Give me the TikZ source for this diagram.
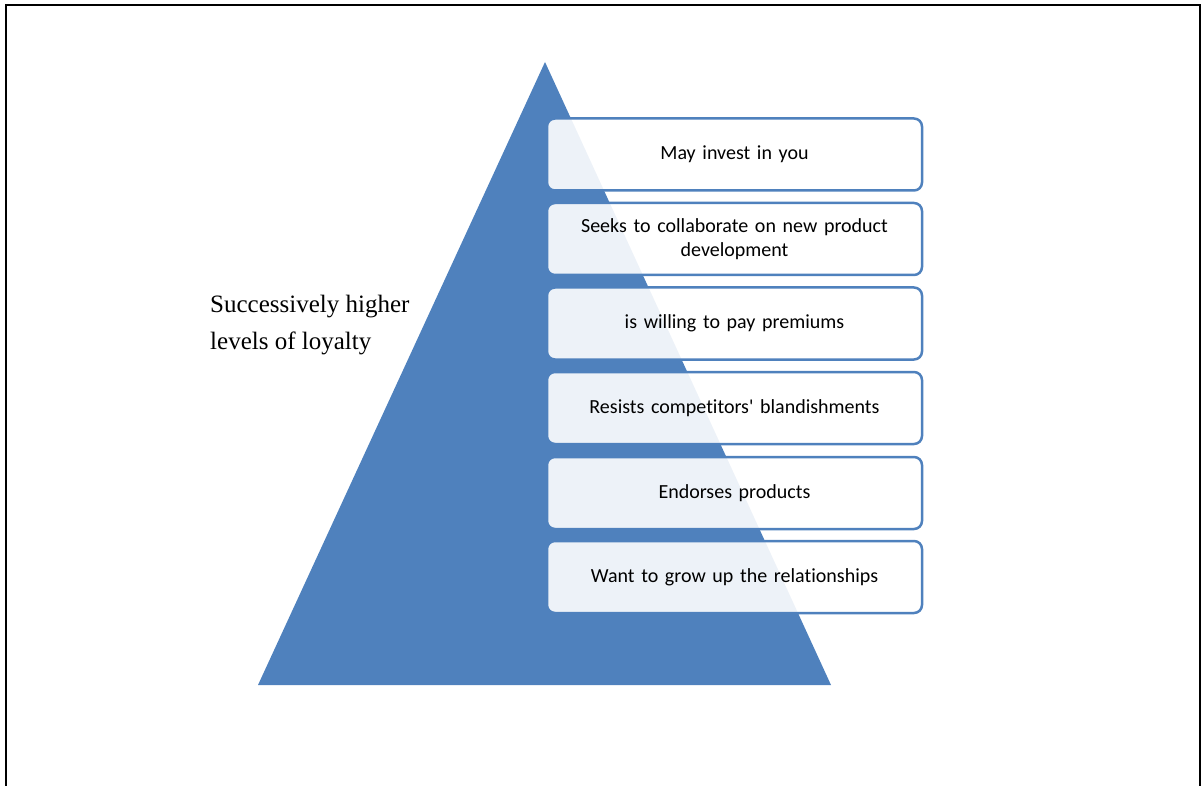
\documentclass[tikz,border=0pt]{standalone}
\usepackage{fontspec}
\setmainfont{Liberation Serif}
\newfontfamily\boxfont[Ligatures={NoCommon}]{Carlito}
\definecolor{triblue}{HTML}{4F81BD}
\tikzset{
  lvl/.style={draw=triblue, line width=2.5pt, rounded corners=8pt, fill=white, fill opacity=0.9, text opacity=1,
    minimum width=375pt, minimum height=72pt, inner sep=2pt, align=center, text width=340pt,
    font=\boxfont\fontsize{20}{24.5}\selectfont},
  frame/.style={draw=black, line width=2pt}
}
\begin{document}
\begin{tikzpicture}[x=1pt,y=-1pt]
\useasboundingbox (0,0) rectangle (1202,786);
\draw[frame] (6,800) -- (6,5) -- (1200,5) -- (1200,800);
\coordinate (apex) at (545,62);
\coordinate (bl) at (258,685);
\coordinate (br) at (831,685);
\fill[triblue] (apex) -- (br) -- (bl) -- cycle;
\node[lvl] (b1) at (734.5,154.5) {May invest in you};
\node[lvl] (b2) at (734.5,239) {Seeks to collaborate on new product\\development};
\node[lvl] (b3) at (734.5,323.5) {is willing to pay premiums};
\node[lvl] (b4) at (734.5,408) {Resists competitors' blandishments};
\node[lvl] (b5) at (734.5,493) {Endorses products};
\node[lvl] (b6) at (734.5,577) {Want to grow up the relationships};
\node[anchor=north west, inner sep=0pt, align=left, font=\fontsize{25}{37}\selectfont] (lab) at (210,295) {Successively higher\\levels of loyalty};
\end{tikzpicture}
\end{document}
